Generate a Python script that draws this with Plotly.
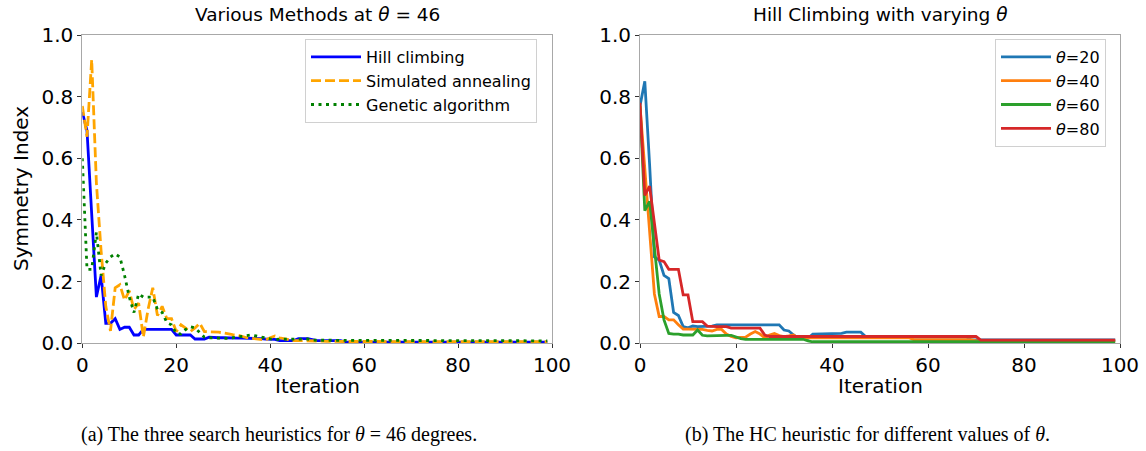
import plotly.graph_objects as go

W, H = 1146, 451

iterations = list(range(100))

# Left panel: three search heuristics at theta = 46
hill_climbing = [
    0.75, 0.69, 0.42, 0.15, 0.22, 0.065, 0.065, 0.08, 0.045, 0.052,
    0.052, 0.027, 0.027, 0.045, 0.045, 0.045, 0.045, 0.045, 0.045, 0.045,
    0.027, 0.027, 0.027, 0.027, 0.014, 0.014, 0.014, 0.02, 0.018, 0.018,
    0.018, 0.017, 0.017, 0.017, 0.017, 0.017, 0.016, 0.016, 0.015, 0.014,
    0.013, 0.013, 0.009, 0.009, 0.009, 0.009, 0.015, 0.015, 0.015, 0.012,
    0.009, 0.009, 0.009, 0.009, 0.009, 0.009, 0.004, 0.004, 0.004, 0.004,
    0.004, 0.004, 0.004, 0.004, 0.004, 0.004, 0.004, 0.004, 0.004, 0.004,
    0.004, 0.004, 0.004, 0.004, 0.004, 0.004, 0.004, 0.004, 0.004, 0.004,
    0.004, 0.004, 0.004, 0.004, 0.004, 0.004, 0.004, 0.004, 0.004, 0.004,
    0.004, 0.004, 0.004, 0.004, 0.004, 0.004, 0.004, 0.004, 0.004, 0.004,
]
simulated_annealing = [
    0.77, 0.67, 0.92, 0.52, 0.30, 0.12, 0.04, 0.18, 0.19, 0.14,
    0.17, 0.11, 0.13, 0.02, 0.11, 0.18, 0.09, 0.12, 0.08, 0.08,
    0.038, 0.06, 0.049, 0.038, 0.05, 0.065, 0.038, 0.038, 0.036, 0.036,
    0.034, 0.03, 0.028, 0.027, 0.022, 0.018, 0.016, 0.014, 0.012, 0.011,
    0.018, 0.024, 0.018, 0.015, 0.012, 0.009, 0.009, 0.009, 0.007, 0.007,
    0.007, 0.007, 0.006, 0.006, 0.006, 0.006, 0.005, 0.005, 0.005, 0.005,
    0.005, 0.005, 0.005, 0.005, 0.005, 0.005, 0.005, 0.005, 0.005, 0.005,
    0.005, 0.005, 0.005, 0.005, 0.005, 0.005, 0.005, 0.005, 0.005, 0.005,
    0.005, 0.005, 0.005, 0.005, 0.005, 0.005, 0.005, 0.005, 0.005, 0.005,
    0.005, 0.005, 0.005, 0.005, 0.005, 0.005, 0.005, 0.005, 0.005, 0.005,
]
genetic_algorithm = [
    0.60, 0.24, 0.24, 0.36, 0.22, 0.26, 0.28, 0.29, 0.28, 0.22,
    0.15, 0.10, 0.16, 0.15, 0.15, 0.15, 0.11, 0.10, 0.067, 0.06,
    0.032, 0.03, 0.045, 0.054, 0.05, 0.035, 0.02, 0.018, 0.017, 0.016,
    0.016, 0.016, 0.018, 0.02, 0.022, 0.025, 0.027, 0.024, 0.02, 0.016,
    0.014, 0.013, 0.013, 0.014, 0.014, 0.014, 0.014, 0.014, 0.014, 0.01,
    0.01, 0.01, 0.01, 0.01, 0.01, 0.01, 0.008, 0.008, 0.008, 0.008,
    0.008, 0.008, 0.008, 0.008, 0.008, 0.008, 0.008, 0.008, 0.008, 0.008,
    0.008, 0.008, 0.008, 0.008, 0.008, 0.008, 0.008, 0.008, 0.008, 0.008,
    0.008, 0.008, 0.008, 0.008, 0.008, 0.008, 0.008, 0.008, 0.008, 0.008,
    0.008, 0.008, 0.008, 0.008, 0.008, 0.008, 0.008, 0.008, 0.008, 0.008,
]

# Right panel: hill climbing with varying theta
theta_20 = [
    0.77, 0.85, 0.58, 0.28, 0.27, 0.22, 0.21, 0.10, 0.09, 0.054,
    0.05, 0.056, 0.054, 0.054, 0.054, 0.056, 0.06, 0.06, 0.06, 0.06,
    0.06, 0.06, 0.06, 0.06, 0.06, 0.06, 0.06, 0.06, 0.06, 0.06,
    0.043, 0.04, 0.027, 0.016, 0.016, 0.016, 0.03, 0.03, 0.03, 0.03,
    0.03, 0.03, 0.032, 0.036, 0.036, 0.036, 0.036, 0.022, 0.02, 0.02,
    0.02, 0.02, 0.02, 0.02, 0.02, 0.02, 0.02, 0.02, 0.02, 0.02,
    0.02, 0.02, 0.02, 0.02, 0.02, 0.02, 0.02, 0.02, 0.02, 0.011,
    0.011, 0.011, 0.011, 0.011, 0.011, 0.011, 0.011, 0.011, 0.011, 0.011,
    0.011, 0.011, 0.011, 0.011, 0.011, 0.011, 0.011, 0.011, 0.011, 0.011,
    0.011, 0.011, 0.011, 0.011, 0.011, 0.011, 0.011, 0.011, 0.011, 0.011,
]
theta_40 = [
    0.77, 0.56, 0.36, 0.16, 0.087, 0.087, 0.076, 0.076, 0.06, 0.046,
    0.046, 0.046, 0.045, 0.045, 0.042, 0.04, 0.045, 0.045, 0.03, 0.022,
    0.018, 0.018, 0.02, 0.03, 0.038, 0.03, 0.018, 0.027, 0.032, 0.025,
    0.022, 0.024, 0.027, 0.016, 0.018, 0.018, 0.018, 0.018, 0.018, 0.018,
    0.018, 0.018, 0.018, 0.018, 0.018, 0.018, 0.018, 0.018, 0.018, 0.018,
    0.018, 0.018, 0.018, 0.018, 0.018, 0.018, 0.018, 0.012, 0.012, 0.012,
    0.012, 0.012, 0.012, 0.012, 0.012, 0.012, 0.012, 0.012, 0.012, 0.012,
    0.008, 0.008, 0.008, 0.008, 0.008, 0.008, 0.008, 0.008, 0.008, 0.008,
    0.008, 0.008, 0.008, 0.008, 0.008, 0.008, 0.008, 0.008, 0.008, 0.008,
    0.008, 0.008, 0.008, 0.008, 0.008, 0.008, 0.008, 0.008, 0.008, 0.008,
]
theta_60 = [
    0.77, 0.43, 0.46, 0.30, 0.16, 0.076, 0.032, 0.03, 0.03, 0.027,
    0.027, 0.027, 0.043, 0.026, 0.024, 0.025, 0.026, 0.026, 0.026, 0.026,
    0.02, 0.015, 0.013, 0.013, 0.013, 0.013, 0.013, 0.013, 0.013, 0.013,
    0.013, 0.013, 0.013, 0.013, 0.013, 0.008, 0.005, 0.005, 0.005, 0.005,
    0.005, 0.005, 0.005, 0.005, 0.005, 0.005, 0.005, 0.005, 0.005, 0.005,
    0.005, 0.005, 0.005, 0.005, 0.005, 0.005, 0.005, 0.005, 0.005, 0.005,
    0.005, 0.005, 0.005, 0.005, 0.005, 0.005, 0.005, 0.005, 0.005, 0.005,
    0.005, 0.005, 0.005, 0.005, 0.005, 0.005, 0.005, 0.005, 0.005, 0.005,
    0.005, 0.005, 0.005, 0.005, 0.005, 0.005, 0.005, 0.005, 0.005, 0.005,
    0.005, 0.005, 0.005, 0.005, 0.005, 0.005, 0.005, 0.005, 0.005, 0.005,
]
theta_80 = [
    0.78, 0.48, 0.51, 0.38, 0.27, 0.265, 0.24, 0.24, 0.24, 0.157,
    0.157, 0.07, 0.07, 0.07, 0.056, 0.054, 0.054, 0.054, 0.054, 0.049,
    0.049, 0.049, 0.049, 0.049, 0.049, 0.049, 0.027, 0.022, 0.022, 0.022,
    0.022, 0.022, 0.022, 0.022, 0.022, 0.022, 0.022, 0.022, 0.022, 0.022,
    0.022, 0.022, 0.022, 0.022, 0.022, 0.022, 0.022, 0.022, 0.022, 0.022,
    0.022, 0.022, 0.022, 0.022, 0.022, 0.022, 0.022, 0.022, 0.022, 0.022,
    0.022, 0.022, 0.022, 0.022, 0.022, 0.022, 0.022, 0.022, 0.022, 0.022,
    0.022, 0.01, 0.01, 0.01, 0.01, 0.01, 0.01, 0.01, 0.01, 0.01,
    0.01, 0.01, 0.01, 0.01, 0.01, 0.01, 0.01, 0.01, 0.01, 0.01,
    0.01, 0.01, 0.01, 0.01, 0.01, 0.01, 0.01, 0.01, 0.01, 0.01,
]

x_ticks = [0, 20, 40, 60, 80, 100]
y_ticks = [0.0, 0.2, 0.4, 0.6, 0.8, 1.0]
y_tick_labels = ["0.0", "0.2", "0.4", "0.6", "0.8", "1.0"]

left_names = ["Hill climbing", "Simulated annealing", "Genetic algorithm"]
right_names = ["<i>θ</i>=20", "<i>θ</i>=40", "<i>θ</i>=60", "<i>θ</i>=80"]

FONT = "DejaVu Sans"
TICK_FS = 20


def px(x):
    return x / W


def py(y):
    return 1 - y / H


fig = go.Figure()

left_styles = [
    dict(color="#0000ff", width=2.8, dash="solid"),
    dict(color="#ffa500", width=2.8, dash="10px,4px"),
    dict(color="#008000", width=2.8, dash="3px,4.5px"),
]
for name, ys, st in zip(left_names, [hill_climbing, simulated_annealing, genetic_algorithm], left_styles):
    fig.add_trace(go.Scatter(x=iterations, y=ys, mode="lines", name=name, line=st,
                             xaxis="x", yaxis="y", legend="legend"))

right_colors = ["#1f77b4", "#ff7f0e", "#2ca02c", "#d62728"]
for name, ys, c in zip(right_names, [theta_20, theta_40, theta_60, theta_80], right_colors):
    fig.add_trace(go.Scatter(x=iterations, y=ys, mode="lines", name=name,
                             line=dict(color=c, width=2.8),
                             xaxis="x2", yaxis="y2", legend="legend2"))

axis_common = dict(
    showgrid=False, zeroline=False, showline=True, linecolor="#a8a8a8", linewidth=1,
    mirror=True, ticks="outside", ticklen=4, tickwidth=1, tickcolor="#333333",
    automargin=False,
    tickfont=dict(family=FONT, size=TICK_FS, color="black"),
)

y_dom = [py(343.3), py(35)]
fig.update_layout(
    width=W, height=H,
    margin=dict(l=0, r=0, t=0, b=0, pad=0, autoexpand=False),
    paper_bgcolor="white", plot_bgcolor="white",
    hovermode=False,
    xaxis=dict(domain=[px(82.3), px(552)], range=[0, 100], tickvals=x_ticks, anchor="y", **axis_common),
    yaxis=dict(domain=y_dom, range=[0, 1], tickvals=y_ticks, ticktext=y_tick_labels, anchor="x", **axis_common),
    xaxis2=dict(domain=[px(640), px(1120)], range=[0, 100], tickvals=x_ticks, anchor="y2", **axis_common),
    yaxis2=dict(domain=y_dom, range=[0, 1], tickvals=y_ticks, ticktext=y_tick_labels, anchor="x2", **axis_common),
    legend=dict(x=px(305), y=py(39), xanchor="left", yanchor="top", itemwidth=50,
                bgcolor="rgba(255,255,255,0.8)", bordercolor="#d0d0d0", borderwidth=1,
                font=dict(family=FONT, size=16, color="black"), tracegroupgap=0),
    legend2=dict(x=px(995), y=py(39), xanchor="left", yanchor="top", itemwidth=50,
                 bgcolor="rgba(255,255,255,0.8)", bordercolor="#d0d0d0", borderwidth=1,
                 font=dict(family=FONT, size=16, color="black"), tracegroupgap=0),
    showlegend=True,
)

annotations = [
    dict(text="Various Methods at <i>θ</i> = 46", x=px(317), y=py(15), size=18.5, family=FONT),
    dict(text="Hill Climbing with varying <i>θ</i>", x=px(880), y=py(15), size=18.5, family=FONT),
    dict(text="Iteration", x=px(317), y=py(386), size=20, family=FONT),
    dict(text="Iteration", x=px(880), y=py(386), size=20, family=FONT),
    dict(text="(a) The three search heuristics for <i>θ</i> = 46 degrees.", x=px(279), y=py(434),
         size=20, family="Liberation Serif"),
    dict(text="(b) The HC heuristic for different values of <i>θ</i>.", x=px(867), y=py(434),
         size=20, family="Liberation Serif"),
]
for a in annotations:
    fig.add_annotation(text=a["text"], x=a["x"], y=a["y"], xref="paper", yref="paper",
                       xanchor="center", yanchor="middle", showarrow=False,
                       font=dict(family=a["family"], size=a["size"], color="black"))

fig.add_annotation(text="Symmetry Index", x=px(21), y=py(189), xref="paper", yref="paper",
                   xanchor="center", yanchor="middle", showarrow=False, textangle=-90,
                   font=dict(family=FONT, size=20, color="black"))

fig.write_html("out.html")
